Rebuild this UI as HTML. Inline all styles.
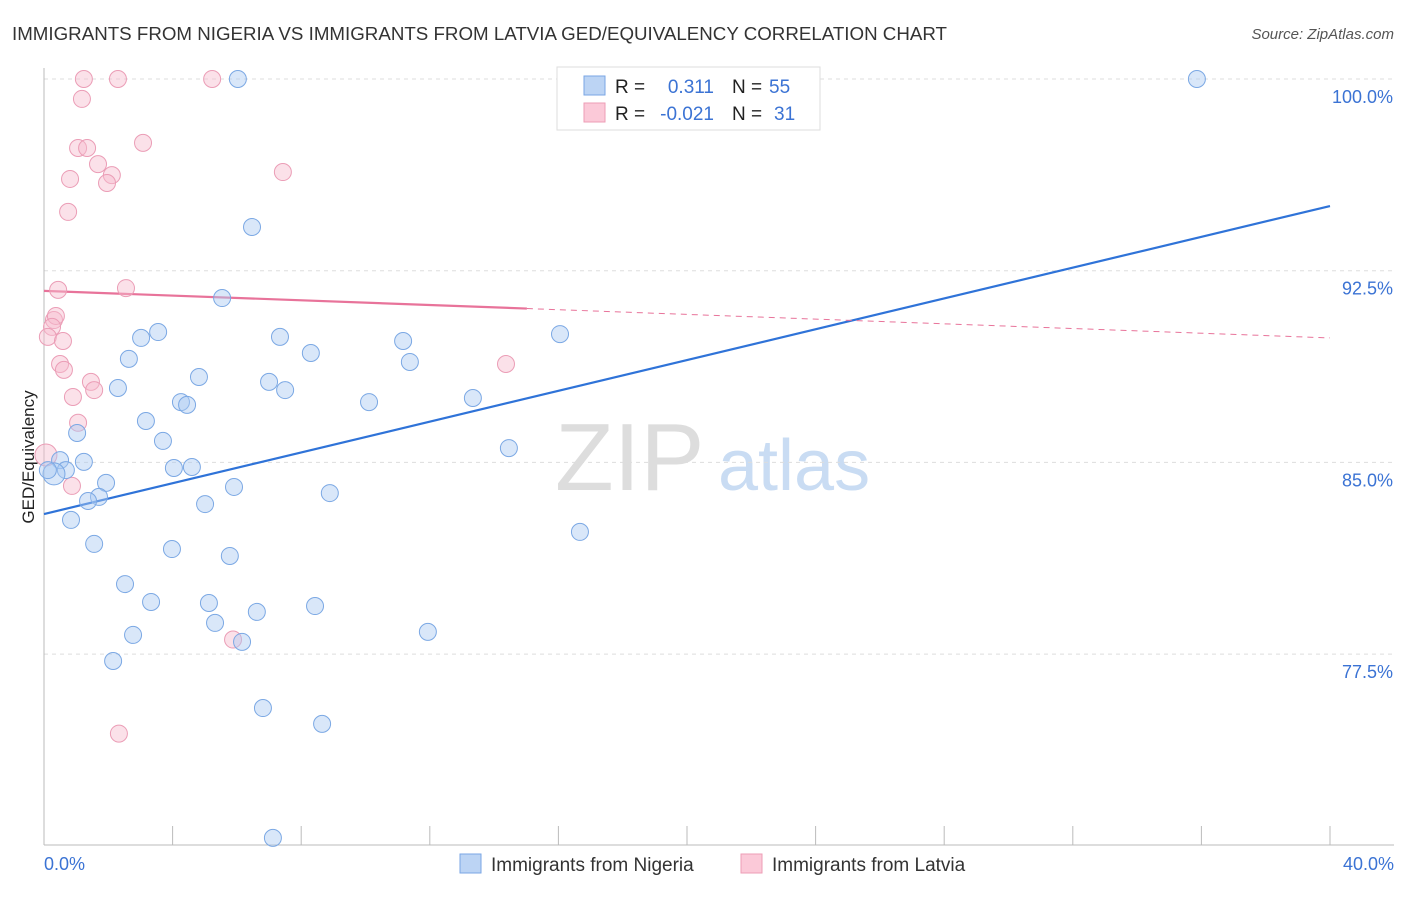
<!DOCTYPE html>
<html><head><meta charset="utf-8"><style>
body{margin:0;background:#fff;font-family:"Liberation Sans",sans-serif;}
svg text{font-family:"Liberation Sans",sans-serif;}
</style></head><body>
<svg id="chart" width="1406" height="892">
<text x="12" y="40" font-size="18" fill="#333" textLength="935" lengthAdjust="spacingAndGlyphs">IMMIGRANTS FROM NIGERIA VS IMMIGRANTS FROM LATVIA GED/EQUIVALENCY CORRELATION CHART</text>
<text x="1394" y="39" font-size="15" fill="#555" text-anchor="end" font-style="italic">Source: ZipAtlas.com</text>
<text transform="translate(34,457) rotate(-90)" font-size="17" fill="#222" text-anchor="middle">GED/Equivalency</text>
<g><text x="555" y="490" font-size="96" fill="#ddd" font-family="Liberation Serif">ZIP</text><text x="718" y="490" font-size="72" fill="#c9dcf3">atlas</text></g>
<g id="grid"></g><g id="axes"></g><g id="trends"></g><g id="pts"></g>
<g>
<rect x="557" y="67" width="263" height="63" fill="#fff" stroke="#ddd"/>
<rect x="584" y="76" width="21" height="19" fill="#bcd4f4" stroke="#7aa6e4"/>
<rect x="584" y="103" width="21" height="19" fill="#fbc9d8" stroke="#ee9db6"/>
<text x="615" y="93" font-size="19" fill="#222">R =</text><text x="714" y="93" font-size="19" fill="#3b73d4" text-anchor="end">0.311</text>
<text x="732" y="93" font-size="19" fill="#222">N =</text><text x="769" y="93" font-size="19" fill="#3b73d4">55</text>
<text x="615" y="120" font-size="19" fill="#222">R =</text><text x="714" y="120" font-size="19" fill="#3b73d4" text-anchor="end">-0.021</text>
<text x="732" y="120" font-size="19" fill="#222">N =</text><text x="774" y="120" font-size="19" fill="#3b73d4">31</text>
</g>
<g>
<rect x="460" y="854" width="21" height="19" fill="#bcd4f4" stroke="#7aa6e4"/>
<text x="491" y="871" font-size="19" fill="#333">Immigrants from Nigeria</text>
<rect x="741" y="854" width="21" height="19" fill="#fbc9d8" stroke="#ee9db6"/>
<text x="772" y="871" font-size="19" fill="#333">Immigrants from Latvia</text>
</g>
<text x="44" y="870" font-size="18" fill="#3b73d4">0.0%</text>
<text x="1394" y="870" font-size="18" fill="#3b73d4" text-anchor="end">40.0%</text>
</svg>
<script>
const yTicks=[100,92.5,85,77.5];
const yTickLabels=["100.0%","92.5%","85.0%","77.5%"];
const nigX=[6.03,35.86,6.47,5.54,3.55,3.02,7.34,11.17,16.05,8.30,2.64,11.38,4.82,2.30,7.00,7.50,4.26,4.45,10.11,13.34,3.17,1.03,3.70,14.46,0.50,1.24,4.04,4.60,0.68,0.31,1.93,5.91,8.89,1.71,1.37,5.01,0.84,16.67,1.56,3.98,5.78,2.52,3.33,5.13,6.62,8.43,5.32,2.77,6.16,11.94,2.15,6.81,8.65,7.12,0.12];
const nigY=[100,100,94.21,91.43,90.10,89.87,89.91,89.75,90.02,89.28,89.05,88.93,88.34,87.91,88.15,87.83,87.36,87.25,87.36,87.52,86.62,86.15,85.84,85.56,85.09,85.02,84.78,84.82,84.70,84.55,84.20,84.04,83.80,83.65,83.49,83.37,82.75,82.28,81.81,81.61,81.34,80.24,79.54,79.50,79.15,79.38,78.72,78.25,77.98,78.37,77.23,75.39,74.77,70.31,84.70];
const latX=[1.24,2.30,5.23,1.18,3.08,1.06,1.34,1.68,0.81,2.11,1.96,7.43,0.75,0.44,2.55,0.31,0.37,0.25,0.12,0.59,0.50,0.62,1.46,1.56,14.37,0.90,1.06,0.87,5.88,2.33,0.06];
const latY=[100,100,100,99.22,97.50,97.30,97.30,96.67,96.09,96.24,95.93,96.36,94.80,91.75,91.82,90.57,90.73,90.30,89.91,89.75,88.85,88.62,88.15,87.83,88.85,87.56,86.55,84.08,78.07,74.39,85.29];
const nigTrend=[82.98,95.03];
const latTrend=[91.71,89.87];
const latSolidEnd=15.02;
const X=v=>44+v/40*1286, Y=v=>79+(100-v)*191.7/7.5;
const NS="http://www.w3.org/2000/svg";
function mk(p,t,a){const e=document.createElementNS(NS,t);for(const k in a)e.setAttribute(k,a[k]);document.getElementById(p).appendChild(e);return e;}
yTicks.forEach((t,i)=>{
 const g=mk('grid','line',{x1:44,x2:1394,y1:Y(t),y2:Y(t),stroke:'#ddd','stroke-dasharray':'4,4'});
 
 
 const l=mk('grid','text',{x:1393,y:Y(t)+24,'font-size':18,fill:'#3b73d4','text-anchor':'end'});
 l.textContent=yTickLabels[i];
 
 
});
const ax=mk('axes','line',{x1:44,x2:44,y1:68,y2:845,stroke:'#bbb'});


const bx=mk('axes','line',{x1:44,x2:1394,y1:845,y2:845,stroke:'#bbb'});


for(let i=1;i<=10;i++){const t=mk('axes','line',{x1:X(i*4),x2:X(i*4),y1:826,y2:845,stroke:'#bbb'});
 
 }
function pts(xs,ys,fill,stroke,name,bigIdx){xs.forEach((x,i)=>{
 const r=i===bigIdx?11:8.5;
 const c=mk('pts','circle',{cx:X(x),cy:Y(ys[i]),r:r,fill:fill,'fill-opacity':0.45,stroke:stroke,'stroke-width':1});
 
 });}
pts(latX,latY,'#f7bccf','#eb9db6','latvia-point',30);
pts(nigX,nigY,'#abc9f1','#7ba8e4','nigeria-point',29);
const bt=mk('trends','line',{x1:X(0),y1:Y(nigTrend[0]),x2:X(40),y2:Y(nigTrend[1]),stroke:'#2f73d8','stroke-width':2.2});


const ly=x=>latTrend[0]+(latTrend[1]-latTrend[0])*x/40;
const pt=mk('trends','line',{x1:X(0),y1:Y(latTrend[0]),x2:X(latSolidEnd),y2:Y(ly(latSolidEnd)),stroke:'#e8739a','stroke-width':2.2});


const pd=mk('trends','line',{x1:X(latSolidEnd),y1:Y(ly(latSolidEnd)),x2:X(40),y2:Y(latTrend[1]),stroke:'#e8739a','stroke-width':1,'stroke-dasharray':'6,5'});


</script>
</body></html>
